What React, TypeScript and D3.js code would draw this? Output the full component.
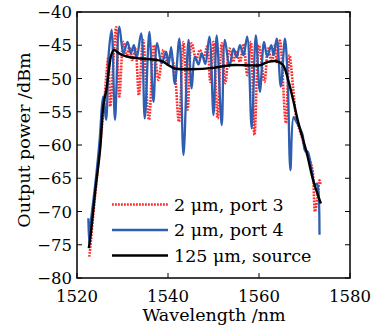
import React from 'react';
import * as d3 from 'd3';

// wavelength (nm), output power (dBm)
const port3: [number, number][] = [
  [1522.7, -76.8], [1522.9, -75.5], [1523.5, -71], [1524.5, -64], [1525.3, -58.5], [1525.9, -54.5],
  [1526.5, -49], [1526.9, -46.7], [1527.3, -54.2], [1528.6, -42.3], [1529.3, -52.7], [1530.2, -44.5],
  [1530.9, -46.7], [1531.5, -45.3], [1532.1, -47.2], [1532.8, -45.5], [1533.6, -52.5], [1534.5, -44.2],
  [1535.8, -56.2], [1536.9, -45], [1537.9, -50.2], [1539, -45.7], [1539.8, -47.5], [1540.5, -46.5],
  [1541.3, -48], [1542.4, -56.5], [1543.4, -44.5], [1544.3, -54.7], [1545.2, -44.7], [1546.2, -47.2],
  [1547, -45.7], [1547.8, -47], [1548.6, -45.2], [1549.3, -50.5], [1550, -44.5], [1550.9, -56],
  [1551.8, -44.7], [1552.6, -50.7], [1553.5, -45.5], [1554.3, -47.5], [1555, -45.8], [1555.8, -47.5],
  [1556.6, -44.8], [1557.4, -49.5], [1558.2, -44.5], [1559, -58.5], [1560, -45], [1561.2, -50.5],
  [1562, -45.5], [1562.8, -47.5], [1563.5, -45], [1563.9, -47.5], [1564.6, -44.3], [1565.9, -56.7],
  [1566.7, -46.5], [1567.5, -51.5], [1568.2, -56], [1568.8, -57.5], [1569.5, -59], [1570.3, -61],
  [1571.2, -62.3], [1571.8, -64], [1572.3, -70], [1572.8, -68], [1573.3, -65.3], [1573.5, -66],
];

const port4: [number, number][] = [
  [1522.5, -71], [1522.7, -74.8], [1523, -71.8], [1524, -66], [1525, -59], [1525.5, -54],
  [1525.8, -52.7], [1526.4, -56.2], [1527, -46], [1527.6, -42.7], [1528.35, -56.2], [1529.3, -42.2],
  [1530.2, -46.2], [1531.1, -44.5], [1531.8, -46.2], [1532.5, -45], [1533.1, -47], [1534.1, -43.2],
  [1534.9, -56], [1535.9, -43], [1536.8, -53.5], [1537.6, -44.7], [1538.6, -47.7], [1539.6, -46],
  [1540.1, -48], [1540.7, -45.3], [1541.5, -50.8], [1542.5, -44], [1543.4, -61.5], [1544.5, -44.2],
  [1545.2, -51.5], [1545.9, -46.7], [1546.7, -47.9], [1547.4, -46.2], [1548.2, -47.8], [1549.1, -43.7],
  [1550, -55.5], [1550.7, -43.5], [1551.8, -57], [1552.5, -44.2], [1553.5, -48.2], [1554.4, -45.5],
  [1555.1, -46.8], [1555.8, -45], [1556.6, -46.5], [1557.4, -43.7], [1558.4, -57.5], [1559.3, -43.5],
  [1560.2, -52], [1561.1, -44.5], [1561.8, -46.7], [1562.7, -45], [1563.2, -46.5], [1563.9, -44],
  [1564.8, -51.2], [1565.7, -44], [1566.3, -50], [1566.9, -63.8], [1567.6, -55.8], [1568.2, -56.5],
  [1569, -57.5], [1569.6, -58.5], [1570.1, -60.8], [1570.7, -61], [1571.5, -63.5], [1572.3, -66],
  [1572.7, -65.8], [1573, -66.5], [1573.3, -73.5],
];

const source: [number, number][] = [
  [1522.6, -75.5], [1523, -73.5], [1524, -67], [1525.1, -60.5], [1525.8, -54], [1526.5, -51.5],
  [1527.1, -48.2], [1527.6, -46.3], [1528.2, -45.7], [1529, -46.1], [1530, -46.5], [1531.6, -46.8],
  [1534, -47], [1537.5, -47.2], [1539, -47.5], [1540.1, -48], [1541.5, -48.5], [1545, -48.6],
  [1550, -48.4], [1553.6, -48], [1557, -48], [1560.2, -48], [1562, -47.5], [1563.9, -47.4],
  [1565.3, -48], [1566.4, -50.2], [1567.5, -53.2], [1568.6, -56.5], [1570.5, -61.2], [1571.9, -65.3],
  [1573.6, -68.8],
];

const xTicks = [1520, 1540, 1560, 1580];
const yTicks = [-80, -75, -70, -65, -60, -55, -50, -45, -40];
const legendLabels = ['2 μm, port 3', '2 μm, port 4', '125 μm, source'];

const W = 382, H = 331;
const left = 77, right = 350, top = 12, bottom = 278;
const font = "'DejaVu Serif', 'Liberation Serif', serif";

export default function App() {
  const x = d3.scaleLinear().domain([1520, 1580]).range([left, right]);
  const y = d3.scaleLinear().domain([-80, -40]).range([bottom, top]);
  const line = d3.line<[number, number]>()
    .x(d => x(d[0]))
    .y(d => y(d[1]))
    .curve(d3.curveCatmullRom.alpha(0.5));

  const series = [
    { data: port3, color: '#ff2b2b', width: 2.6, dash: '1.8,1.2' },
    { data: port4, color: '#2f5db0', width: 2.3, dash: undefined },
    { data: source, color: '#000', width: 2.4, dash: undefined },
  ];
  const minus = (v: number) => (v < 0 ? '\u2212' + Math.abs(v) : String(v));

  return (
    <svg width={W} height={H} style={{ position: 'absolute', left: 0, top: 0, background: '#fff', fontFamily: font }}>
      <defs>
        <clipPath id="plot">
          <rect x={left} y={top} width={right - left} height={bottom - top} />
        </clipPath>
      </defs>
      <g clipPath="url(#plot)">
        {series.map((s, i) => (
          <path key={i} d={line(s.data) || ''} fill="none" stroke={s.color}
            strokeWidth={s.width} strokeDasharray={s.dash} strokeLinejoin="round" />
        ))}
      </g>

      {/* frame and inner ticks on all sides */}
      <rect x={left} y={top} width={right - left} height={bottom - top} fill="none" stroke="#000" strokeWidth={1.5} />
      {xTicks.map(t => (
        <g key={t}>
          <line x1={x(t)} x2={x(t)} y1={bottom} y2={bottom - 5} stroke="#000" strokeWidth={1} />
          <line x1={x(t)} x2={x(t)} y1={top} y2={top + 5} stroke="#000" strokeWidth={1} />
          <text x={x(t)} y={302} textAnchor="middle" fontSize={16.5}>{t}</text>
        </g>
      ))}
      {yTicks.map(t => (
        <g key={t}>
          <line x1={left} x2={left + 5} y1={y(t)} y2={y(t)} stroke="#000" strokeWidth={1} />
          <line x1={right} x2={right - 5} y1={y(t)} y2={y(t)} stroke="#000" strokeWidth={1} />
          <text x={72} y={y(t) + 6} textAnchor="end" fontSize={16.5}>{minus(t)}</text>
        </g>
      ))}

      <text x={214} y={321} textAnchor="middle" fontSize={17.5}>Wavelength /nm</text>
      <text transform="translate(30,140) rotate(-90)" textAnchor="middle" fontSize={17.5}>Output power /dBm</text>

      {legendLabels.map((l, i) => {
        const ly = 204.5 + i * 25.5;
        const s = series[i];
        return (
          <g key={l}>
            <line x1={112} x2={168} y1={ly} y2={ly} stroke={s.color} strokeWidth={s.width} strokeDasharray={s.dash} />
            <text x={174} y={ly + 6} fontSize={17.5}>{l}</text>
          </g>
        );
      })}
    </svg>
  );
}
